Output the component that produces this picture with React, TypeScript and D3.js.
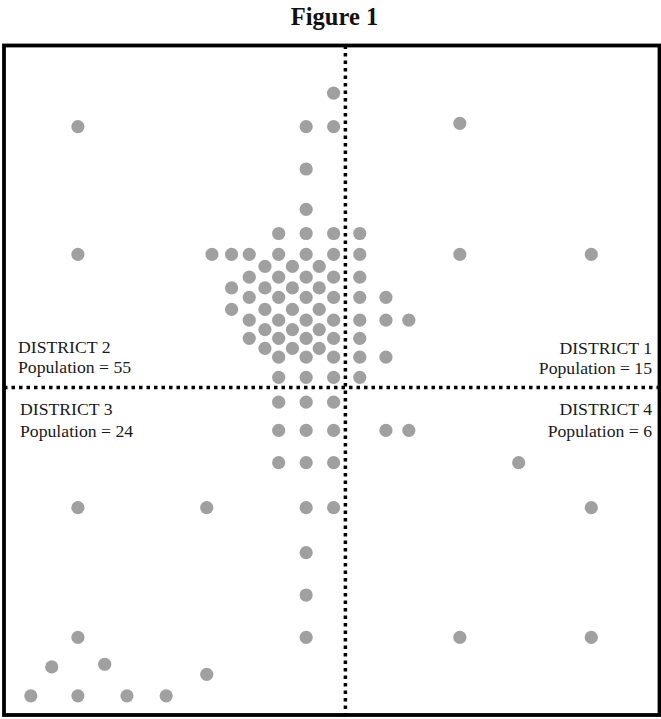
import React from "react";
import * as d3 from "d3";

// Data space: x 0..100 (west→east), y 0..100 (south→north)
const title = "Figure 1";
const dividerX = 52.2;
const dividerY = 48.9;

// District 1 (north-east)
const district1: [number, number][] = [
  [69.7, 88.2], [54.4, 71.8], [54.4, 68.7], [69.7, 68.7], [89.8, 68.7],
  [54.4, 65.3], [54.4, 62.3], [58.4, 62.3], [54.4, 58.9], [58.4, 58.9],
  [61.9, 58.9], [54.4, 56.2], [54.4, 53.4], [58.4, 53.4], [54.4, 50.4],
];

// District 2 (north-west)
const district2: [number, number][] = [
  [50.4, 92.7], [11.3, 87.7], [46.2, 87.7], [50.4, 87.7], [46.2, 81.4], [46.2, 75.4],
  [42.0, 71.8], [46.2, 71.8], [50.4, 71.8],
  [11.3, 68.7], [31.8, 68.7], [34.8, 68.7], [37.5, 68.7], [42.0, 68.7], [46.2, 68.7], [50.4, 68.7],
  [39.9, 66.9], [44.1, 66.9], [48.2, 66.9],
  [37.5, 65.3], [42.0, 65.3], [46.2, 65.3], [50.4, 65.3],
  [34.8, 63.7], [39.9, 63.7], [44.1, 63.7], [48.2, 63.7],
  [37.5, 62.3], [42.0, 62.3], [46.2, 62.3], [50.4, 62.3],
  [34.8, 60.5], [39.9, 60.5], [44.1, 60.5], [48.2, 60.5],
  [37.5, 58.9], [42.0, 58.9], [46.2, 58.9], [50.4, 58.9],
  [39.9, 57.5], [44.1, 57.5], [48.2, 57.5],
  [37.5, 56.2], [42.0, 56.2], [46.2, 56.2], [50.4, 56.2],
  [39.9, 54.7], [44.1, 54.7], [48.2, 54.7],
  [42.0, 53.4], [46.2, 53.4], [50.4, 53.4],
  [42.0, 50.4], [46.2, 50.4], [50.4, 50.4],
];

// District 3 (south-west)
const district3: [number, number][] = [
  [42.0, 46.7], [46.2, 46.7], [50.4, 46.7],
  [42.0, 42.5], [46.2, 42.5], [50.4, 42.5],
  [42.0, 37.7], [46.2, 37.7], [50.4, 37.7],
  [11.3, 31.0], [31.0, 31.0], [46.2, 31.0], [50.4, 31.0],
  [46.2, 24.3], [46.2, 18.0],
  [11.3, 11.7], [46.2, 11.7],
  [7.3, 7.3], [15.4, 7.7], [31.0, 6.2],
  [4.1, 3.0], [11.3, 3.0], [18.8, 3.0], [24.8, 3.0],
];

// District 4 (south-east)
const district4: [number, number][] = [
  [58.4, 42.5], [61.9, 42.5], [78.7, 37.7], [89.8, 31.0], [69.7, 11.7], [89.8, 11.7],
];

const districtNames = ["DISTRICT 1", "DISTRICT 2", "DISTRICT 3", "DISTRICT 4"];

const W = 661;
const H = 719;
const frame = { left: 4, top: 45.5, right: 659.5, bottom: 715 };

export default function App() {
  const x = d3.scaleLinear().domain([0, 100]).range([4, 658]);
  const y = d3.scaleLinear().domain([0, 100]).range([716, 44]);

  const all = [...district1, ...district2, ...district3, ...district4];
  const font = "'Liberation Serif', 'Times New Roman', serif";
  const labelStyle = { fontFamily: font, fontSize: 17.7, fill: "#1a1a1a" } as const;

  const xd = x(dividerX);
  const yd = y(dividerY);

  return (
    <svg
      width={W}
      height={H}
      style={{ position: "absolute", left: 0, top: 0, background: "#fff" }}
    >
      <text
        x={334.5}
        y={25}
        textAnchor="middle"
        style={{ fontFamily: font, fontSize: 24.5, fontWeight: 700, fill: "#111" }}
      >
        {title}
      </text>

      {all.map(([vx, vy], i) => (
        <circle key={i} cx={x(vx)} cy={y(vy)} r={6.6} fill="#a0a0a0" />
      ))}

      <line
        x1={xd}
        x2={xd}
        y1={frame.top}
        y2={frame.bottom}
        stroke="#000"
        strokeWidth={3.5}
        strokeDasharray="3.5 4"
      />
      <line
        x1={frame.left}
        x2={frame.right}
        y1={yd}
        y2={yd}
        stroke="#000"
        strokeWidth={3.5}
        strokeDasharray="3.5 4"
      />

      <rect
        x={frame.left}
        y={frame.top}
        width={frame.right - frame.left}
        height={frame.bottom - frame.top}
        fill="none"
        stroke="#000"
        strokeWidth={3.8}
      />

      <text x={18} y={353} style={labelStyle}>{districtNames[1]}</text>
      <text x={18} y={373} style={labelStyle}>{`Population = ${district2.length}`}</text>

      <text x={652} y={354} textAnchor="end" style={labelStyle}>{districtNames[0]}</text>
      <text x={652} y={374} textAnchor="end" style={labelStyle}>{`Population = ${district1.length}`}</text>

      <text x={20} y={415} style={labelStyle}>{districtNames[2]}</text>
      <text x={20} y={437} style={labelStyle}>{`Population = ${district3.length}`}</text>

      <text x={652} y={415} textAnchor="end" style={labelStyle}>{districtNames[3]}</text>
      <text x={652} y={437} textAnchor="end" style={labelStyle}>{`Population = ${district4.length}`}</text>
    </svg>
  );
}
